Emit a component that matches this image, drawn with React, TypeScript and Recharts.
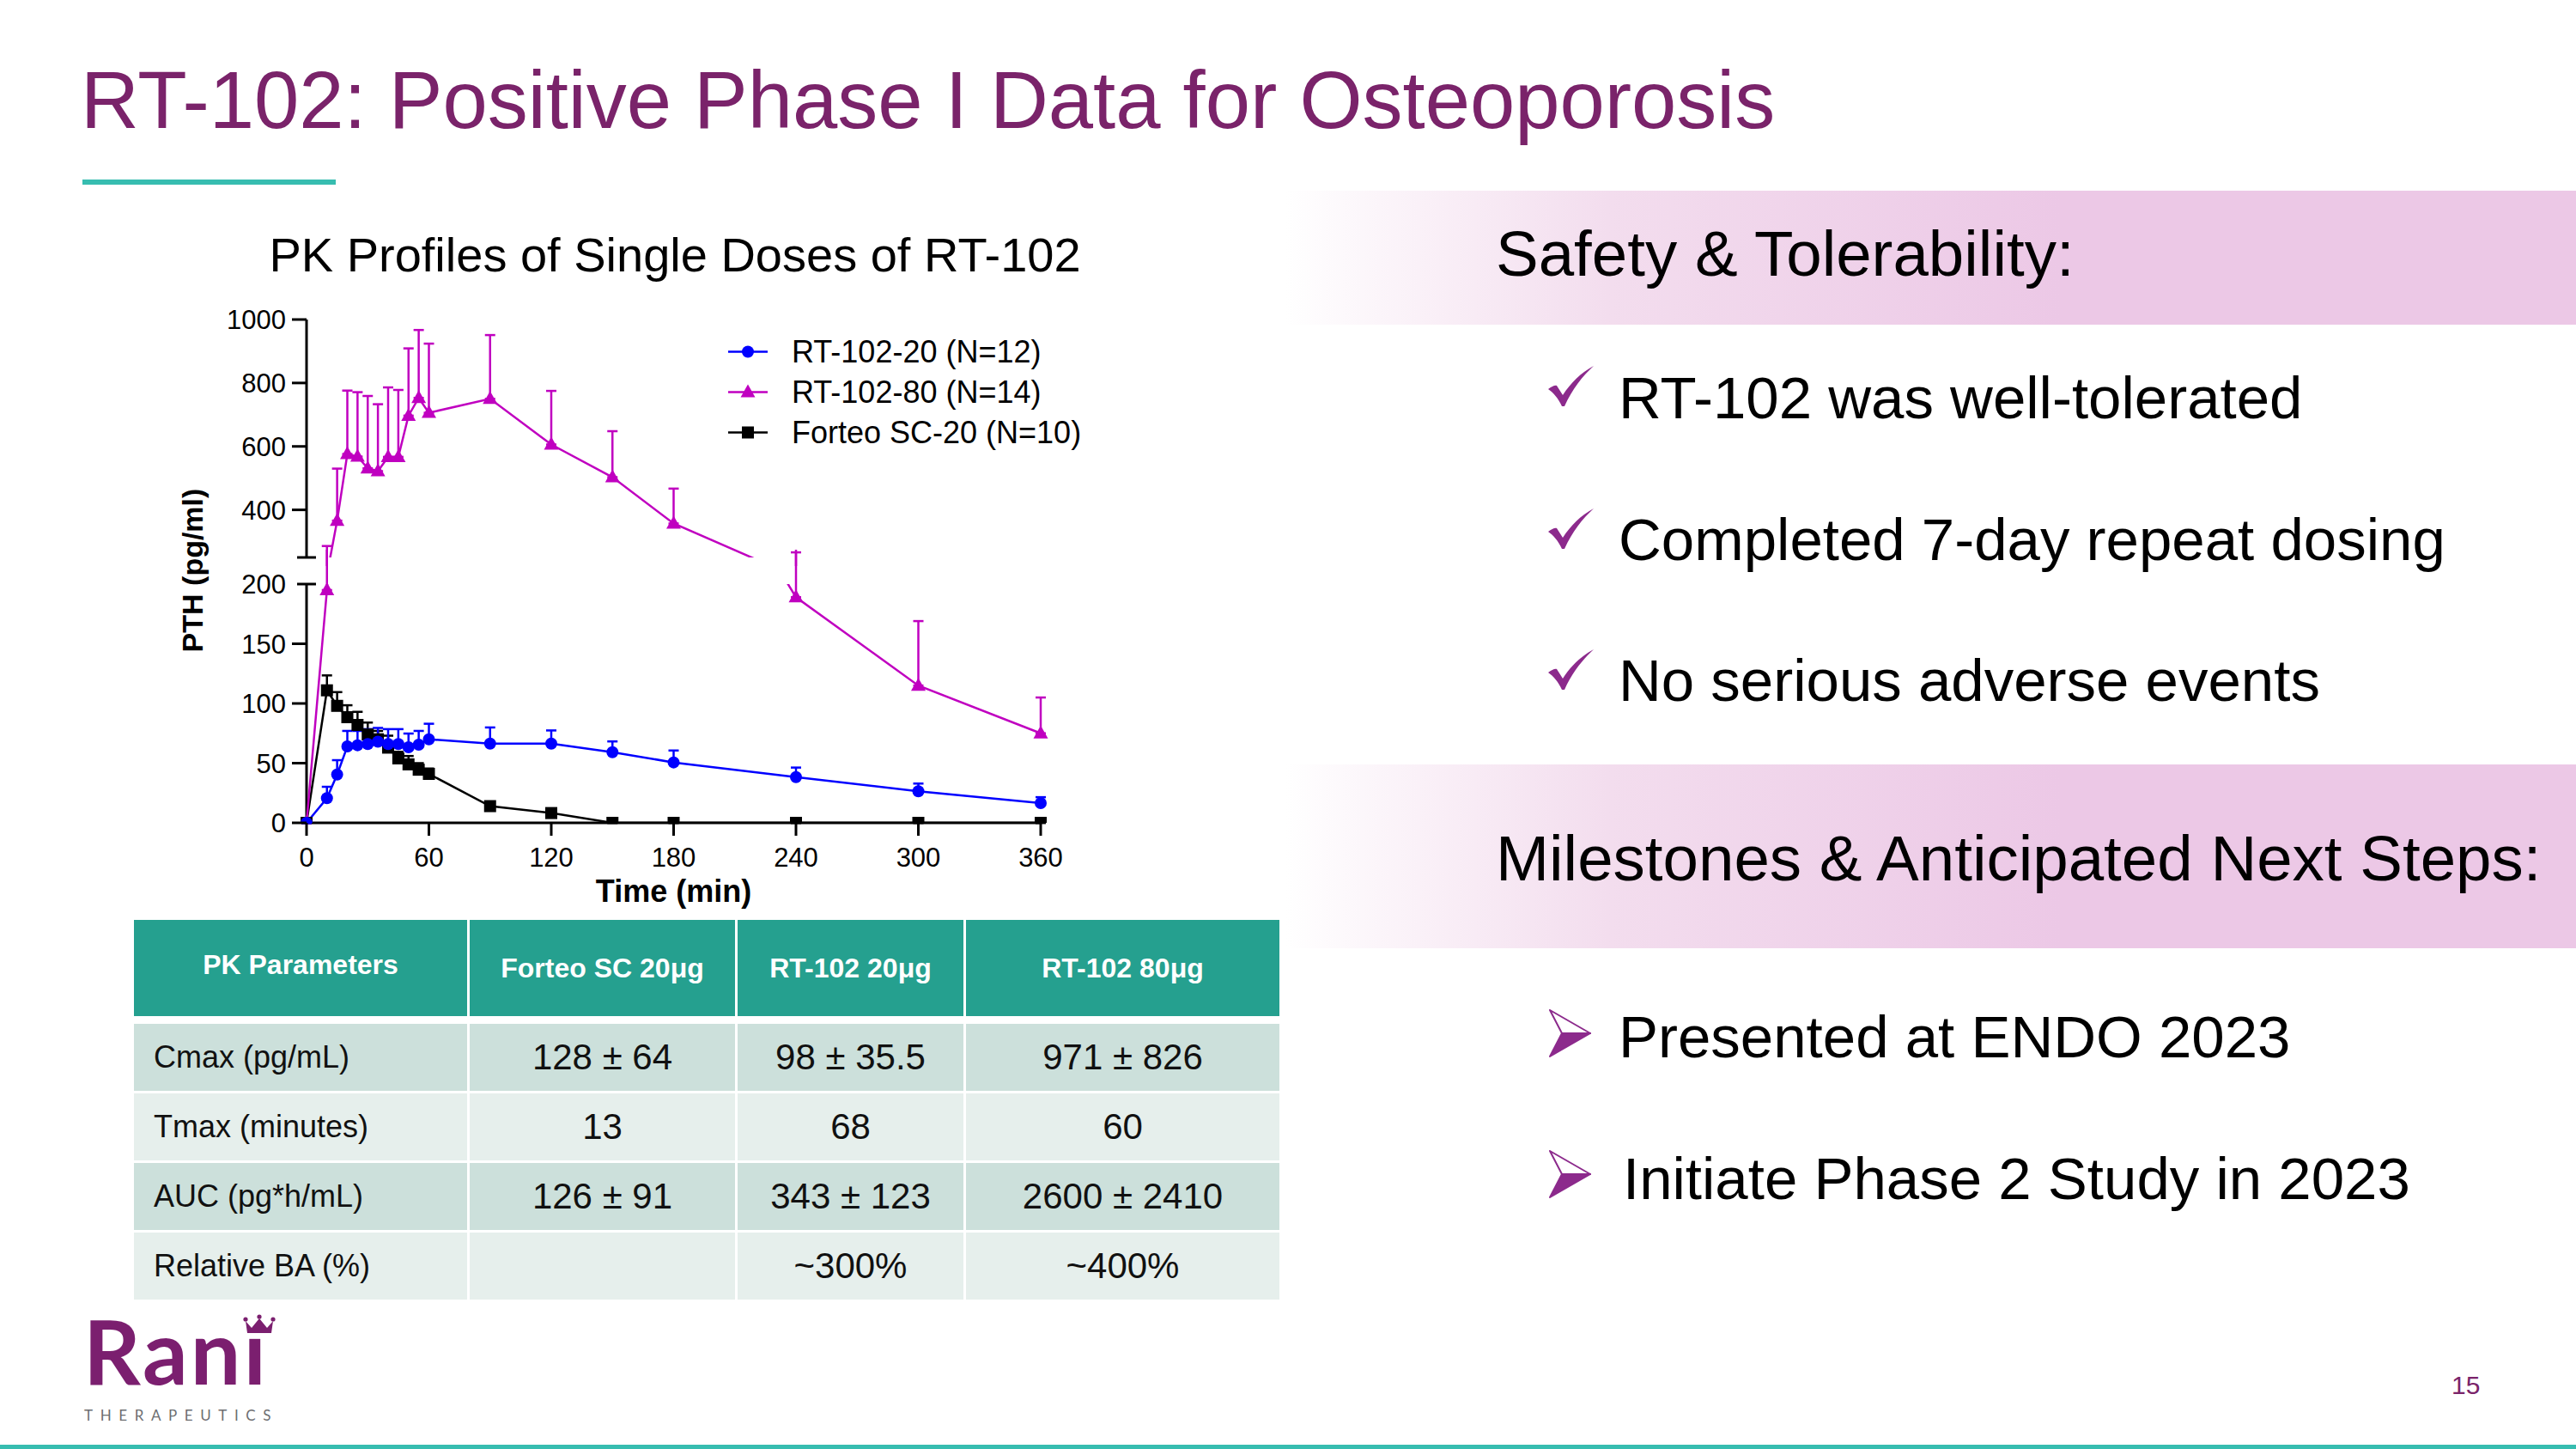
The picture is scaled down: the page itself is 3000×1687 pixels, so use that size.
import React from 'react';
import { LineChart, Line, XAxis, YAxis, ErrorBar, ReferenceLine, Legend } from 'recharts';

// sampling times (min)
const times = [0, 10, 15, 20, 25, 30, 35, 40, 45, 50, 55, 60, 90, 120, 150, 180, 240, 300, 360];

// mean PTH (pg/ml) and upper SD
const rt20Mean = [0, 20.7, 40.5, 64, 65, 66, 68, 66, 66, 63.3, 65.5, 70, 66.4, 66.4, 59.2, 50.6, 38.3, 26.4, 16.5];
const rt20Sd = [0, 9.5, 12, 13, 12, 12.5, 11.5, 12.5, 12.5, 11.5, 11.5, 13, 13.5, 11, 9, 10, 8, 6.5, 5];
const rt80Mean = [0, 195, 366, 576, 568, 531, 522, 567, 567, 697, 753, 706, 750, 606, 503, 357, 189, 115, 75];
const rt80Sd = [0, 91, 164, 200, 203, 228, 211, 219, 211, 212, 214, 218, 201, 169, 145, 110, 77, 54, 30];
const forteoMean = [0, 111, 98, 88.5, 82, 74, 70, 63, 54, 49, 44.5, 41, 14, 8.2, 0, 0, 0, 0, 0];
const forteoSd = [0, 12.5, 11.5, 10, 11, 10, 7, 10, 5.5, 7, 5.5, 4.5, 0, 0, 0, 0, 0, 0, 0];

const xTicks = [0, 60, 120, 180, 240, 300, 360];
const lowerTicks = [0, 50, 100, 150, 200];
const upperTicks = [250, 400, 600, 800, 1000];

const seriesNames = ['RT-102-20 (N=12)', 'RT-102-80 (N=14)', 'Forteo SC-20 (N=10)'];

const tableHeader = ['PK Parameters', 'Forteo SC 20μg', 'RT-102 20μg', 'RT-102 80μg'];
const tableRows = [
  ['Cmax (pg/mL)', '128 ± 64', '98 ± 35.5', '971 ± 826'],
  ['Tmax (minutes)', '13', '68', '60'],
  ['AUC (pg*h/mL)', '126 ± 91', '343 ± 123', '2600 ± 2410'],
  ['Relative BA (%)', '', '~300%', '~400%'],
];

const safetyItems = ['RT-102 was well-tolerated', 'Completed 7-day repeat dosing', 'No serious adverse events'];
const nextSteps = ['Presented at ENDO 2023', 'Initiate Phase 2 Study in 2023'];

const pkData = times.map((t, i) => ({
  t,
  rt20: rt20Mean[i],
  rt20Err: [0, rt20Sd[i]],
  rt80: rt80Mean[i],
  rt80Err: [0, rt80Sd[i]],
  forteo: forteoMean[i],
  forteoErr: [0, forteoSd[i]],
}));

const FONT = '"Liberation Sans", Arial, Helvetica, sans-serif';
const PURPLE = '#7A236A';
const TEAL = '#37BDB0';
const BLUE = '#0000FF';
const MAGENTA = '#C000C0';
const BLACK = '#000000';

const AXIS_X = 357; // x of t=0 (chart coords == page coords)
const LOWER_TOP = 640;
const ZERO_Y = 958 - LOWER_TOP;

const marker = (shape: string, cx: number, cy: number, color: string, key?: any) => {
  if (shape === 'circle') return <circle key={key} cx={cx} cy={cy} r={7} fill={color} />;
  if (shape === 'triangle')
    return <polygon key={key} points={`${cx},${cy - 9} ${cx - 8.5},${cy + 6} ${cx + 8.5},${cy + 6}`} fill={color} />;
  return <rect key={key} x={cx - 7} y={cy - 7} width={14} height={14} fill={color} />;
};

const dotFor = (shape: string, color: string) => (p: any) =>
  p.cx == null || p.cy == null ? <g key={p.index} /> : marker(shape, p.cx, p.cy, color, p.index);

const makeYTick = (breakAt: number, noLabel: number | null) => (props: any) => {
  const { y, payload } = props;
  const v = payload.value;
  const isBreak = v === breakAt;
  return (
    <g>
      <line
        x1={isBreak ? AXIS_X - 11 : AXIS_X - 17}
        x2={isBreak ? AXIS_X + 11 : AXIS_X}
        y1={y}
        y2={y}
        stroke="#000"
        strokeWidth={3}
      />
      {v !== noLabel && (
        <text x={333} y={y} dy="0.36em" textAnchor="end" fontSize={31} fontFamily={FONT} fill="#000">
          {v}
        </text>
      )}
    </g>
  );
};

const XTick = (props: any) => {
  const { x, payload } = props;
  return (
    <g>
      <line x1={x} x2={x} y1={ZERO_Y} y2={ZERO_Y + 15} stroke="#000" strokeWidth={3} />
      <text x={x} y={ZERO_Y + 51} textAnchor="middle" fontSize={31} fontFamily={FONT} fill="#000">
        {payload.value}
      </text>
    </g>
  );
};

const LegendBox = () => {
  const colors = [BLUE, MAGENTA, BLACK];
  const shapes = ['circle', 'triangle', 'square'];
  return (
    <div style={{ fontFamily: FONT, fontSize: 36, color: '#000' }}>
      {seriesNames.map((name, i) => (
        <div key={name} style={{ display: 'flex', alignItems: 'center', height: 47 }}>
          <svg width={74} height={47}>
            <line x1={0} x2={46} y1={23.5} y2={23.5} stroke={colors[i]} strokeWidth={2.5} />
            {marker(shapes[i], 23, 23.5, colors[i])}
          </svg>
          <span style={{ lineHeight: '47px', whiteSpace: 'nowrap' }}>{name}</span>
        </div>
      ))}
    </div>
  );
};

const CheckMark = ({ top }: { top: number }) => (
  <svg style={{ position: 'absolute', left: 1803, top }} width={54} height={50} viewBox="0 0 54 50">
    <path
      d="M0,27 C4,24 8,22 10,23 L17,34 C26,20 38,8 53,0 C40,12 28,27 19,47 L16,47 C12,38 6,31 0,27 Z"
      fill="#8C2A8C"
    />
  </svg>
);

const ArrowMark = ({ top }: { top: number }) => (
  <svg style={{ position: 'absolute', left: 1804, top }} width={50} height={56} viewBox="0 0 50 56">
    <path d="M1,1 L48,28 L15,28 Z" fill="#fff" stroke="#8C2A8C" strokeWidth={2} strokeLinejoin="round" />
    <path d="M15,28 L48,28 L1,55 Z" fill="#8C2A8C" stroke="#8C2A8C" strokeWidth={2} strokeLinejoin="round" />
  </svg>
);

const colLefts = [156, 547, 859, 1125];
const colWidths = [388, 309, 263, 365];
const rowTops = [1192, 1273, 1354, 1435];
const rowColors = ['#CCE0DB', '#E6EFEC', '#CCE0DB', '#E6EFEC'];

export default function App() {
  return (
    <div
      style={{
        position: 'absolute',
        left: 0,
        top: 0,
        width: 3000,
        height: 1687,
        background: '#fff',
        overflow: 'hidden',
        fontFamily: FONT,
      }}
    >
      {/* slide title */}
      <div style={{ position: 'absolute', left: 94, top: 70, fontSize: 94, lineHeight: 1, color: PURPLE, whiteSpace: 'nowrap' }}>
        RT-102: Positive Phase I Data for Osteoporosis
      </div>
      <div style={{ position: 'absolute', left: 96, top: 209, width: 295, height: 6, background: TEAL }} />

      {/* chart title + y label */}
      <div style={{ position: 'absolute', left: 286, top: 269, width: 1000, textAlign: 'center', fontSize: 56, lineHeight: 1, color: '#000' }}>
        PK Profiles of Single Doses of RT-102
      </div>
      <div
        style={{
          position: 'absolute',
          left: 24,
          top: 644,
          width: 400,
          height: 40,
          lineHeight: '40px',
          textAlign: 'center',
          fontSize: 34,
          fontWeight: 'bold',
          color: '#000',
          transform: 'rotate(-90deg)',
        }}
      >
        PTH (pg/ml)
      </div>

      {/* upper segment of broken axis: 250-1000 */}
      <div style={{ position: 'absolute', left: 0, top: 330 }}>
        <LineChart width={1300} height={329} data={pkData} margin={{ top: 42, right: 76, bottom: 10, left: 0 }}>
          <XAxis type="number" dataKey="t" domain={[0, 360]} padding={{ left: 12, right: 12 }} hide />
          <YAxis
            type="number"
            domain={[250, 1000]}
            allowDataOverflow
            ticks={upperTicks}
            interval={0}
            width={345}
            axisLine={false}
            tickLine={false}
            tick={makeYTick(250, 250)}
          />
          <ReferenceLine segment={[{ x: 0, y: 250 }, { x: 0, y: 1000 }]} stroke="#000" strokeWidth={3} ifOverflow="visible" />
          <Line
            type="linear"
            dataKey="rt80"
            stroke={MAGENTA}
            strokeWidth={2.5}
            dot={dotFor('triangle', MAGENTA)}
            activeDot={false}
            isAnimationActive={false}
          >
            <ErrorBar dataKey="rt80Err" direction="y" width={6} stroke={MAGENTA} strokeWidth={2.5} isAnimationActive={false} />
          </Line>
          <Legend
            layout="vertical"
            align="center"
            verticalAlign="middle"
            content={() => <LegendBox />}
            wrapperStyle={{ left: 848, top: 56, width: 460 }}
          />
        </LineChart>
      </div>

      {/* lower segment of broken axis: 0-200 */}
      <div style={{ position: 'absolute', left: 0, top: LOWER_TOP }}>
        <LineChart width={1300} height={429} data={pkData} margin={{ top: 40, right: 76, bottom: 0, left: 0 }}>
          <XAxis
            type="number"
            dataKey="t"
            domain={[0, 360]}
            padding={{ left: 12, right: 12 }}
            ticks={xTicks}
            interval={0}
            height={100}
            axisLine={false}
            tickLine={false}
            tick={XTick}
            label={{
              value: 'Time (min)',
              position: 'insideBottom',
              offset: 19,
              style: { fontSize: 36, fontWeight: 'bold', fill: '#000', fontFamily: FONT },
            }}
          />
          <YAxis
            type="number"
            domain={[0, 200]}
            allowDataOverflow
            padding={{ top: 0, bottom: 11 }}
            ticks={lowerTicks}
            interval={0}
            width={345}
            axisLine={false}
            tickLine={false}
            tick={makeYTick(200, null)}
          />
          <ReferenceLine segment={[{ x: 0, y: 0 }, { x: 0, y: 200 }]} stroke="#000" strokeWidth={3} ifOverflow="visible" />
          <ReferenceLine segment={[{ x: 0, y: 0 }, { x: 360, y: 0 }]} stroke="#000" strokeWidth={3} ifOverflow="visible" />
          <Line
            type="linear"
            dataKey="forteo"
            stroke={BLACK}
            strokeWidth={2.5}
            dot={dotFor('square', BLACK)}
            activeDot={false}
            isAnimationActive={false}
          >
            <ErrorBar dataKey="forteoErr" direction="y" width={6} stroke={BLACK} strokeWidth={2.5} isAnimationActive={false} />
          </Line>
          <Line
            type="linear"
            dataKey="rt80"
            stroke={MAGENTA}
            strokeWidth={2.5}
            dot={dotFor('triangle', MAGENTA)}
            activeDot={false}
            isAnimationActive={false}
          >
            <ErrorBar dataKey="rt80Err" direction="y" width={6} stroke={MAGENTA} strokeWidth={2.5} isAnimationActive={false} />
          </Line>
          <Line
            type="linear"
            dataKey="rt20"
            stroke={BLUE}
            strokeWidth={2.5}
            dot={dotFor('circle', BLUE)}
            activeDot={false}
            isAnimationActive={false}
          >
            <ErrorBar dataKey="rt20Err" direction="y" width={6} stroke={BLUE} strokeWidth={2.5} isAnimationActive={false} />
          </Line>
        </LineChart>
      </div>

      {/* PK table */}
      {tableHeader.map((h, c) => (
        <div
          key={h}
          style={{
            position: 'absolute',
            left: colLefts[c],
            top: 1071,
            width: colWidths[c],
            height: 112,
            background: '#25A08F',
            color: '#fff',
            fontWeight: 'bold',
            fontSize: 32,
            display: 'flex',
            alignItems: 'center',
            justifyContent: 'center',
            paddingBottom: c === 0 ? 8 : 0,
            boxSizing: 'border-box',
          }}
        >
          {h}
        </div>
      ))}
      {tableRows.map((row, r) =>
        row.map((cell, c) => (
          <div
            key={`${r}-${c}`}
            style={{
              position: 'absolute',
              left: colLefts[c],
              top: rowTops[r],
              width: colWidths[c],
              height: 78,
              background: rowColors[r],
              color: '#111',
              fontSize: c === 0 ? 36 : 42,
              display: 'flex',
              alignItems: 'center',
              justifyContent: c === 0 ? 'flex-start' : 'center',
              paddingLeft: c === 0 ? 23 : 0,
              boxSizing: 'border-box',
              whiteSpace: 'nowrap',
            }}
          >
            {cell}
          </div>
        ))
      )}

      {/* right side panels */}
      <div
        style={{
          position: 'absolute',
          left: 1497,
          top: 222,
          width: 1503,
          height: 156,
          background: 'linear-gradient(to right, #ffffff 0%, #F3DDEE 25%, #ECC8E6 60%, #ECC8E6 100%)',
        }}
      />
      <div style={{ position: 'absolute', left: 1742, top: 259, fontSize: 74.5, lineHeight: 1, color: '#000', whiteSpace: 'nowrap' }}>
        Safety &amp; Tolerability:
      </div>
      {safetyItems.map((s, i) => (
        <React.Fragment key={s}>
          <CheckMark top={[426, 592, 756][i]} />
          <div
            style={{
              position: 'absolute',
              left: 1885,
              top: [429, 594, 758][i],
              fontSize: 69,
              lineHeight: 1,
              color: '#000',
              whiteSpace: 'nowrap',
            }}
          >
            {s}
          </div>
        </React.Fragment>
      ))}

      <div
        style={{
          position: 'absolute',
          left: 1497,
          top: 890,
          width: 1503,
          height: 214,
          background: 'linear-gradient(to right, #ffffff 0%, #F3DDEE 25%, #ECC8E6 60%, #ECC8E6 100%)',
        }}
      />
      <div style={{ position: 'absolute', left: 1742, top: 963, fontSize: 74.5, lineHeight: 1, color: '#000', whiteSpace: 'nowrap' }}>
        Milestones &amp; Anticipated Next Steps:
      </div>
      {nextSteps.map((s, i) => (
        <React.Fragment key={s}>
          <ArrowMark top={[1175, 1339][i]} />
          <div
            style={{
              position: 'absolute',
              left: [1885, 1890][i],
              top: [1173, 1338][i],
              fontSize: 69,
              lineHeight: 1,
              color: '#000',
              whiteSpace: 'nowrap',
            }}
          >
            {s}
          </div>
        </React.Fragment>
      ))}

      {/* logo */}
      <div
        style={{
          position: 'absolute',
          left: 97,
          top: 1534,
          fontFamily: 'Lato, sans-serif',
          fontWeight: 'bold',
          fontSize: 104,
          lineHeight: 0.74,
          letterSpacing: 3,
          color: '#7B1F6F',
          whiteSpace: 'nowrap',
        }}
      >
        Ranı
      </div>
      <svg style={{ position: 'absolute', left: 283, top: 1530 }} width={38} height={24} viewBox="0 0 38 24">
        <path d="M3,8 L10,16 L19,5 L28,16 L35,8 L33,22 L5,22 Z" fill="#7B1F6F" />
        <circle cx={3} cy={6} r={2.6} fill="#7B1F6F" />
        <circle cx={19} cy={3} r={2.6} fill="#7B1F6F" />
        <circle cx={35} cy={6} r={2.6} fill="#7B1F6F" />
      </svg>
      <div
        style={{
          position: 'absolute',
          left: 98,
          top: 1639,
          fontFamily: 'Lato, sans-serif',
          fontSize: 17,
          lineHeight: 1,
          letterSpacing: 8.6,
          color: '#6D6E71',
          whiteSpace: 'nowrap',
        }}
      >
        THERAPEUTICS
      </div>

      {/* page number + footer rule */}
      <div style={{ position: 'absolute', left: 2855, top: 1598, fontSize: 30, lineHeight: 1, color: PURPLE }}>15</div>
      <div style={{ position: 'absolute', left: 0, top: 1682, width: 3000, height: 5, background: TEAL }} />
    </div>
  );
}
